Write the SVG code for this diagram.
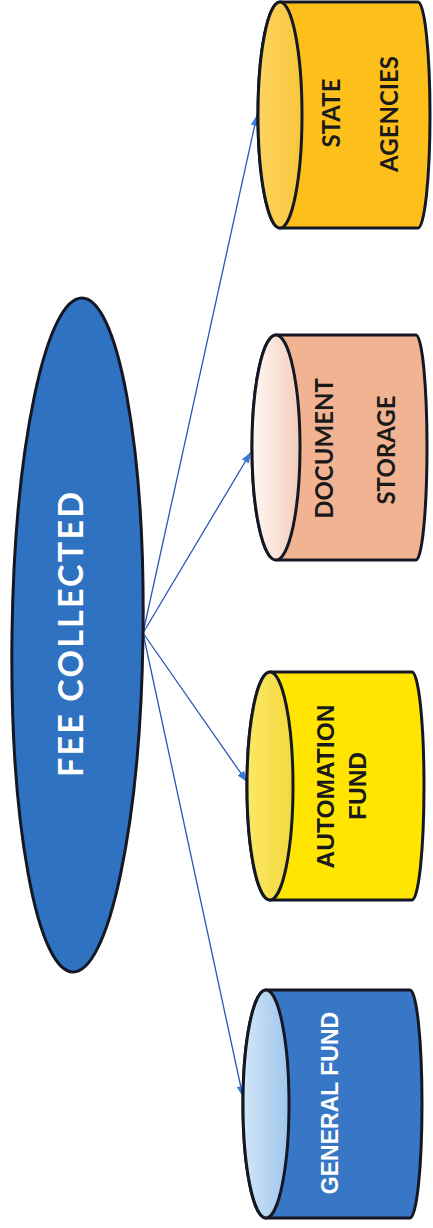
<svg xmlns="http://www.w3.org/2000/svg" width="433" height="1228" viewBox="0 0 433 1228">
  <style>
    .outline { stroke: #141824; stroke-width: 3; }
    .lbl { font-family: Lato, "Open Sans", "DejaVu Sans", sans-serif; font-weight: 700; text-anchor: middle; }
    .lbl-arial { font-family: "Liberation Sans", Arial, sans-serif; font-weight: 700; text-anchor: middle; }
    .link { stroke: #2A57B4; stroke-width: 1.3; fill: none; marker-end: url(#arrow); }
  </style>
  <defs>
    <marker id="arrow" markerUnits="userSpaceOnUse" markerWidth="11" markerHeight="8" refX="11" refY="4" orient="auto">
      <path d="M0,0 L11,4 L0,8 Z" fill="#3A7AD6"/>
    </marker>
    <linearGradient id="capBlue" x1="0" y1="0" x2="1" y2="0">
      <stop offset="0" stop-color="#D2E6F8"/>
      <stop offset="1" stop-color="#9EC6EC"/>
    </linearGradient>
    <linearGradient id="capPeach" x1="0" y1="0" x2="1" y2="0">
      <stop offset="0" stop-color="#FFF8F4"/>
      <stop offset="1" stop-color="#F4CDBB"/>
    </linearGradient>
    <linearGradient id="capYellow" x1="0" y1="0" x2="1" y2="0">
      <stop offset="0" stop-color="#FBE866"/>
      <stop offset="1" stop-color="#F3D83C"/>
    </linearGradient>
    <linearGradient id="capGold" x1="0" y1="0" x2="1" y2="0">
      <stop offset="0" stop-color="#FDD460"/>
      <stop offset="1" stop-color="#F8C63A"/>
    </linearGradient>
  </defs>

  <!-- connectors from the source ellipse to each destination -->
  <g id="connectors">
    <line class="link" x1="143" y1="633" x2="257" y2="115"/>
    <line class="link" x1="143" y1="633" x2="251" y2="452"/>
    <line class="link" x1="143" y1="633" x2="247" y2="782"/>
    <line class="link" x1="143" y1="633" x2="243" y2="1097"/>
  </g>

  <!-- source -->
  <g id="fee-collected">
    <ellipse cx="77.5" cy="635" rx="65.5" ry="337" fill="#2F72C2" class="outline" transform="rotate(0.77 77.5 635)"/>
    <text class="lbl" font-size="34" fill="#FFFFFF" textLength="285" lengthAdjust="spacing" transform="translate(83.2 634.5) rotate(-90)">FEE COLLECTED</text>
  </g>

  <!-- destinations: cylinders lying on their side, open end facing left -->
  <g id="state-agencies">
    <path d="M280,2 L418,2 A12,113 0 0 1 418,228 L280,228 A22,113 0 0 1 280,2 Z" fill="#FDBF1A" class="outline"/>
    <ellipse cx="280" cy="115" rx="22" ry="113" fill="url(#capGold)" class="outline"/>
    <text class="lbl" font-size="24" fill="#1A1A1A" transform="translate(339.6 113) rotate(-90)">STATE</text>
    <text class="lbl" font-size="24" fill="#1A1A1A" transform="translate(397.6 114) rotate(-90)">AGENCIES</text>
  </g>

  <g id="document-storage">
    <path d="M276,335 L416,335 A11,112.5 0 0 1 416,560 L276,560 A24,112.5 0 0 1 276,335 Z" fill="#F2B393" class="outline"/>
    <ellipse cx="276" cy="447.5" rx="24" ry="112.5" fill="url(#capPeach)" class="outline"/>
    <text class="lbl" font-size="24" fill="#1A1A1A" transform="translate(332.6 448.5) rotate(-90)">DOCUMENT</text>
    <text class="lbl" font-size="24" fill="#1A1A1A" transform="translate(394.6 450) rotate(-90)">STORAGE</text>
  </g>

  <g id="automation-fund">
    <path d="M270,672 L412,672 A12,114 0 0 1 412,900 L270,900 A23,114 0 0 1 270,672 Z" fill="#FFE500" class="outline"/>
    <ellipse cx="270" cy="786" rx="23" ry="114" fill="url(#capYellow)" class="outline"/>
    <text class="lbl-arial" font-size="24.5" fill="#1A1A1A" transform="translate(333.8 786.5) rotate(-90)">AUTOMATION</text>
    <text class="lbl-arial" font-size="24.5" fill="#1A1A1A" transform="translate(366.3 786) rotate(-90)">FUND</text>
  </g>

  <g id="general-fund">
    <path d="M266,990 L410,990 A12,114 0 0 1 410,1218 L266,1218 A23,114 0 0 1 266,990 Z" fill="#3877C5" class="outline"/>
    <ellipse cx="266" cy="1104" rx="23" ry="114" fill="url(#capBlue)" class="outline"/>
    <text class="lbl-arial" font-size="23" fill="#FFFFFF" transform="translate(338.2 1103) rotate(-90)">GENERAL FUND</text>
  </g>
</svg>
